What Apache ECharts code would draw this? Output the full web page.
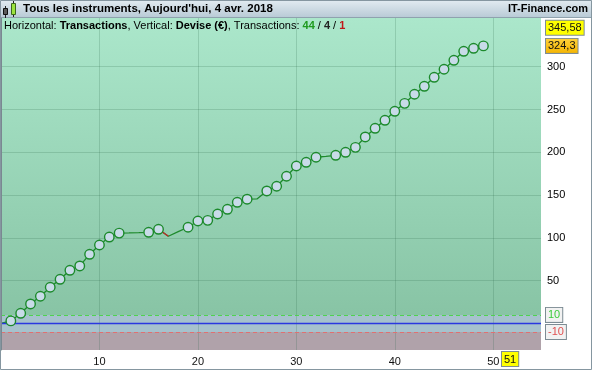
<!DOCTYPE html>
<html><head><meta charset="utf-8">
<script src="https://cdn.jsdelivr.net/npm/echarts@6/dist/echarts.min.js"></script>
<style>html,body{margin:0;padding:0;background:#fff}#c{width:592px;height:370px}</style>
</head><body><div id="c"></div>
<script>
// ---- data ----
const tradeNo = [0,1,2,3,4,5,6,7,8,9,10,11,12,13,14,15,16,17,18,19,20,21,22,23,24,25,26,27,28,29,30,31,32,33,34,35,36,37,38,39,40,41,42,43,44,45,46,47,48,49];
const equity = [0,3,11.9,22.8,31.8,42.3,51.6,62.1,67.2,80.8,91.7,101,105.6,105.8,106.1,106.5,110,101.9,107.3,112.4,119.7,120.5,127.9,133.4,141.6,145.2,145.5,154.8,160.3,172,184,188.3,194.2,195.3,196.5,200,205.8,217.9,228,237.4,247.9,257.2,267.8,277.1,287.6,297,307.5,318,321.5,324.3];
const noMarker = [0,13,14,17,18,26,33];
const lossSegments = [[16,17]];
const xTicks = [10,20,30,40,50];
const yTicks = [50,100,150,200,250,300];
const upperThreshold = 10;
const lowerThreshold = -10;
const levelMarks = [345.58, 324.3];
const currentTrade = 51;
const titleText = "Tous les instruments, Aujourd'hui, 4 avr. 2018";
const siteText = 'IT-Finance.com';
const stats = [44, 4, 1];

// ---- chart ----
const FONT = "'Liberation Sans', Arial, sans-serif";
const X_MIN = 0, X_MAX = 54.85, Y_MIN = -31, Y_MAX = 356.9;
const fr = v => String(v).replace('.', ',');
const G = echarts.graphic.LinearGradient;
const chart = echarts.init(document.getElementById('c'), null, {renderer: 'canvas'});

const lineData = tradeNo.map((x, i) => [x, equity[i]]);
const markerData = lineData.filter((d, i) => noMarker.indexOf(i) < 0);
const lossSeries = lossSegments.map(seg => ({
  type: 'line', z: 5, silent: true, symbol: 'none',
  data: seg.map(i => [tradeNo[i], equity[i]]),
  lineStyle: {color: '#c02828', width: 1.3}
}));

const boxLabel = (text, bg, color, border) => ({
  show: true, position: 'end', distance: 5, formatter: text,
  backgroundColor: bg, borderColor: border || '#7d8c94', borderWidth: 1,
  padding: [2, 2, 1, 2], color: color, fontSize: 11, fontFamily: FONT, opacity: 1
});
const hidden = {color: 'rgba(0,0,0,0)', width: 1, type: 'solid'};

const option = {
  animation: false,
  backgroundColor: '#fff',
  title: [
    {text: titleText, left: 23, top: 3, padding: 0, textStyle: {fontSize: 11.5, fontWeight: 'bold', color: '#000', fontFamily: FONT}},
    {text: siteText, right: 4, top: 3, padding: 0, textStyle: {fontSize: 11, fontWeight: 'bold', color: '#000', fontFamily: FONT}},
    {text: '{n|Horizontal: }{b|Transactions}{n|, Vertical: }{b|Devise (€)}{n|, Transactions: }{g|' + stats[0] + '}{n| / }{k|' + stats[1] + '}{n| / }{r|' + stats[2] + '}',
     left: 4, top: 20, padding: 0,
     textStyle: {fontSize: 11, fontFamily: FONT, fontWeight: 'normal', rich: {
       n: {fontSize: 11, fontFamily: FONT, color: '#000', fontWeight: 'normal'},
       b: {fontSize: 11, fontFamily: FONT, color: '#000', fontWeight: 'bold'},
       g: {fontSize: 11, fontFamily: FONT, color: '#1f9a1f', fontWeight: 'bold'},
       k: {fontSize: 11, fontFamily: FONT, color: '#222', fontWeight: 'bold'},
       r: {fontSize: 11, fontFamily: FONT, color: '#c01818', fontWeight: 'bold'}
     }}}
  ],
  graphic: [
    {type: 'rect', z: -10, shape: {x: 0, y: 0, width: 592, height: 18},
     style: {fill: new G(0, 0, 0, 1, [{offset: 0, color: '#e2ebf1'}, {offset: 1, color: '#b7c9d5'}])}},
    {type: 'line', z: 50, shape: {x1: 0, y1: 17.5, x2: 592, y2: 17.5}, style: {stroke: '#8fa2ae', lineWidth: 1}},
    // icon
    {type: 'line', z: 60, shape: {x1: 5.5, y1: 6, x2: 5.5, y2: 18}, style: {stroke: '#222', lineWidth: 1}},
    {type: 'rect', z: 61, shape: {x: 3.5, y: 8.5, width: 4, height: 6}, style: {fill: '#5a5a5a', stroke: '#111', lineWidth: 1}},
    {type: 'line', z: 60, shape: {x1: 13.5, y1: 1, x2: 13.5, y2: 17}, style: {stroke: '#222', lineWidth: 1}},
    {type: 'rect', z: 61, shape: {x: 11.5, y: 3.5, width: 4, height: 11}, style: {fill: '#9be33e', stroke: '#3c6a1c', lineWidth: 1}},
    // frame
    {type: 'rect', z: 100, shape: {x: 0.5, y: 0.5, width: 591, height: 369}, style: {fill: null, stroke: '#8596a0', lineWidth: 1}},
    {type: 'line', z: 100, shape: {x1: 1.5, y1: 18, x2: 1.5, y2: 350}, style: {stroke: '#7a8891', lineWidth: 1}}
  ],
  grid: {left: 1, right: 51, top: 18, bottom: 20, containLabel: false},
  xAxis: {
    type: 'value', min: X_MIN, max: X_MAX, interval: 10,
    axisLine: {show: false},
    axisTick: {show: true, customValues: xTicks, length: 5, lineStyle: {color: '#8a979e'}},
    axisLabel: {show: true, customValues: xTicks, margin: 6, fontSize: 11, color: '#111', fontFamily: FONT},
    splitLine: {show: false}
  },
  yAxis: {
    type: 'value', position: 'right', min: Y_MIN, max: Y_MAX,
    axisLine: {show: true, lineStyle: {color: '#7f9a92', width: 1}},
    axisTick: {show: true, customValues: yTicks, length: 4, lineStyle: {color: '#333'}},
    axisLabel: {show: true, customValues: yTicks, margin: 6, fontSize: 11, color: '#000', fontFamily: FONT},
    splitLine: {show: false}
  },
  series: [
    {
      type: 'line', z: 1, silent: true, data: [], symbol: 'none',
      markArea: {silent: true, data: [
        [{yAxis: upperThreshold, itemStyle: {color: new G(0, 0, 0, 1, [{offset: 0, color: '#abe7cb'}, {offset: 1, color: '#88c4a5'}])}}, {yAxis: Y_MAX}],
        [{yAxis: lowerThreshold, itemStyle: {color: '#a6c2cd'}}, {yAxis: upperThreshold}],
        [{yAxis: Y_MIN, itemStyle: {color: '#b0a2aa'}}, {yAxis: lowerThreshold}]
      ]}
    },
    {
      type: 'line', z: 2, silent: true, data: [], symbol: 'none',
      markLine: {silent: true, symbol: 'none', label: {show: false},
        lineStyle: {color: 'rgba(40,100,70,0.2)', type: 'solid', width: 1},
        data: xTicks.map(v => ({xAxis: v})).concat(yTicks.map(v => ({yAxis: v})))}
    },
    {
      type: 'line', z: 3, silent: true, data: [], symbol: 'none',
      markLine: {silent: true, symbol: 'none', data: [
        {yAxis: 0, lineStyle: {color: '#2a38e0', width: 1.3, type: 'solid'}, label: {show: false}},
        {yAxis: upperThreshold, lineStyle: {color: '#4fd34f', width: 1, type: [4, 3]}, label: boxLabel(String(upperThreshold), '#f2f2f2', '#3ccc3c')},
        {yAxis: lowerThreshold, lineStyle: {color: '#e07070', width: 1, type: [4, 3]}, label: boxLabel(String(lowerThreshold), '#f2f2f2', '#e05050')},
        {yAxis: levelMarks[0], lineStyle: hidden, label: boxLabel(fr(levelMarks[0]), '#ffff00', '#111')},
        {yAxis: levelMarks[1], lineStyle: hidden, label: boxLabel(fr(levelMarks[1]), {type: 'linear', x: 0, y: 0, x2: 0, y2: 1, colorStops: [{offset: 0, color: '#ffd23c'}, {offset: 1, color: '#f4b400'}]}, '#111')},
        {xAxis: currentTrade, lineStyle: hidden, label: Object.assign(boxLabel(String(currentTrade), '#ffff00', '#111'), {position: 'start', distance: 2, offset: [7, 0]})}
      ]}
    },
    {
      type: 'line', z: 4, silent: true, symbol: 'none', data: lineData,
      lineStyle: {color: '#1e8a2c', width: 1.3}
    }
  ].concat(lossSeries).concat([
    {
      type: 'scatter', z: 6, silent: true, data: markerData, symbol: 'circle', symbolSize: 9.5,
      itemStyle: {color: '#c8dbe8', borderColor: '#1c8a2c', borderWidth: 1.4, opacity: 1}
    }
  ])
};
chart.setOption(option);
</script></body></html>
